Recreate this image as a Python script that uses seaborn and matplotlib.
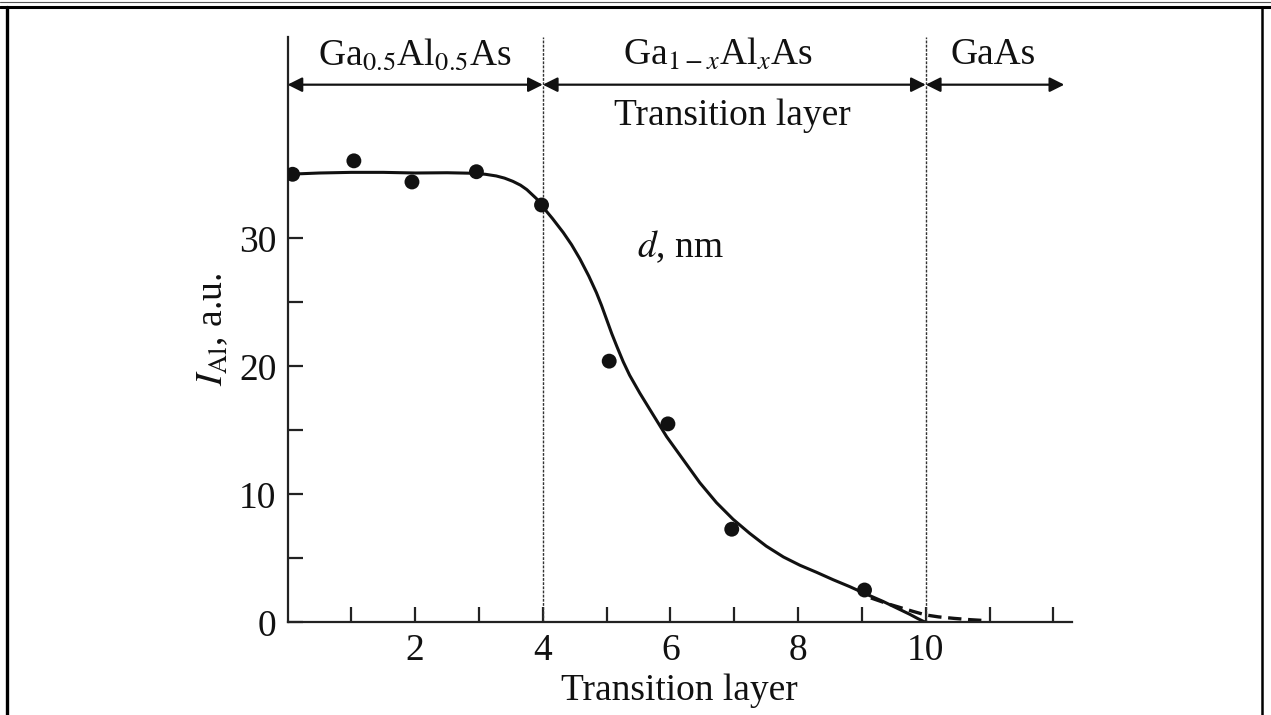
import matplotlib
matplotlib.use("Agg")
import matplotlib.pyplot as plt
import seaborn as sns
import pandas as pd
from matplotlib.lines import Line2D

# measured points (layer, I_Al)
layer = [0.08, 1.04, 1.95, 2.96, 3.98, 5.04, 5.96, 6.96, 9.04]
i_al = [35.0, 36.05, 34.4, 35.2, 32.6, 20.4, 15.5, 7.27, 2.52]

# fitted curve
fit_x = [0.0, 0.5, 1.0, 1.5, 2.0, 2.5, 2.9, 3.1, 3.27, 3.4, 3.53, 3.65, 3.75,
         3.9, 4.0, 4.15, 4.32, 4.45, 4.58, 4.72, 4.84, 4.92, 5.0, 5.08, 5.16,
         5.26, 5.36, 5.52, 5.68, 5.94, 6.2, 6.46, 6.72, 6.98, 7.24, 7.5, 7.77,
         8.03, 8.29, 8.55, 8.81, 9.03, 9.33, 9.6, 9.75, 9.87, 9.95, 10.0]
fit_y = [35.0, 35.1, 35.15, 35.15, 35.1, 35.12, 35.08, 35.0, 34.87, 34.7,
         34.45, 34.15, 33.8, 33.1, 32.45, 31.55, 30.45, 29.5, 28.4, 27.05,
         25.75, 24.75, 23.65, 22.55, 21.55, 20.35, 19.3, 17.9, 16.6, 14.5,
         12.7, 10.9, 9.35, 8.05, 6.95, 5.95, 5.1, 4.45, 3.9, 3.32, 2.78, 2.28,
         1.63, 0.98, 0.62, 0.3, 0.1, 0.0]

# dashed tail into GaAs
tail_x = [9.14, 9.4, 9.6, 9.8, 10.0, 10.2, 10.45, 10.7, 10.97]
tail_y = [1.9, 1.45, 1.15, 0.85, 0.57, 0.42, 0.3, 0.2, 0.12]

# layer boundaries and labels
bounds = [0, 4, 10, 12.17]
layer_names = ["Ga$_{0.5}$Al$_{0.5}$As", "Ga$_{1\u2212x}$Al$_{x}$As", "GaAs"]
name_x = [2.0, 6.75, 11.06]

sns.set_style("ticks")
plt.rcParams["font.family"] = ["Liberation Serif", "DejaVu Serif"]
plt.rcParams["mathtext.fontset"] = "stix"

FS = 27

fig = plt.figure(figsize=(12.71, 7.15), dpi=100)
ax = fig.add_axes([0.2262, 0.1297, 0.6172, 0.8181])

pts = pd.DataFrame({"x": layer, "y": i_al})
fit = pd.DataFrame({"x": fit_x, "y": fit_y})
tail = pd.DataFrame({"x": tail_x, "y": tail_y})

sns.lineplot(data=fit, x="x", y="y", ax=ax, color="#111111", lw=2.2,
             sort=False, estimator=None)
sns.lineplot(data=tail, x="x", y="y", ax=ax, color="#111111", lw=2.4,
             sort=False, estimator=None, linestyle=(0, (4, 2)))
sns.scatterplot(data=pts, x="x", y="y", ax=ax, color="#111111", s=115,
                edgecolor="none", zorder=5)

ax.set_xlim(0, 12.29)
ax.set_ylim(0, 45.7)

# boundary lines
for b in bounds[1:3]:
    ax.axvline(b, color="#333333", lw=1.0, linestyle=(0, (2, 1)), zorder=1)

sns.despine(ax=ax, top=True, right=True)
for s in ["left", "bottom"]:
    ax.spines[s].set_linewidth(1.6)
    ax.spines[s].set_color("#222222")

ax.set_xticks(range(1, 13))
ax.set_xticklabels(["", "2", "", "4", "", "6", "", "8", "", "10", "", ""])
ax.set_yticks(range(0, 31, 5))
ax.set_yticklabels(["0", "", "10", "", "20", "", "30"])
ax.tick_params(direction="in", length=11, width=1.6, color="#222222",
               labelsize=FS, labelcolor="#111111")
ax.tick_params(axis="x", pad=8)
ax.tick_params(axis="y", pad=8)

ax.set_xlabel("Transition layer", fontsize=FS, labelpad=4, color="#111111")
ax.set_ylabel("$I_{\\mathrm{Al}}$, a.u.", fontsize=FS, labelpad=6, color="#111111")

# arrows on top
for a, b in zip(bounds[:-1], bounds[1:]):
    ax.annotate("", xy=(b, 42.0), xytext=(a, 42.0),
                arrowprops=dict(arrowstyle="<|-|>", color="#111111", lw=1.6,
                                mutation_scale=22, shrinkA=0, shrinkB=0),
                annotation_clip=False)

for nx, nm in zip(name_x, layer_names):
    ax.text(nx, 44.3, nm, fontsize=FS, ha="center", va="center",
            color="#111111", clip_on=False)
ax.text(6.97, 39.55, "Transition layer", fontsize=FS, ha="center", va="center",
        color="#111111")
ax.text(5.47, 29.3, "$d$, nm", fontsize=FS, ha="left", va="center",
        color="#111111")

# page frame
fig.add_artist(Line2D([0, 1], [1 - 2 / 715, 1 - 2 / 715], color="#555555", lw=0.8))
fig.add_artist(Line2D([0, 1], [1 - 7 / 715, 1 - 7 / 715], color="black", lw=2.2))
fig.add_artist(Line2D([7 / 1271, 7 / 1271], [0, 1 - 7 / 715], color="black", lw=2.4))
fig.add_artist(Line2D([1262 / 1271, 1262 / 1271], [0, 1 - 7 / 715], color="black", lw=1.8))

fig.savefig("out.png", dpi=100)
